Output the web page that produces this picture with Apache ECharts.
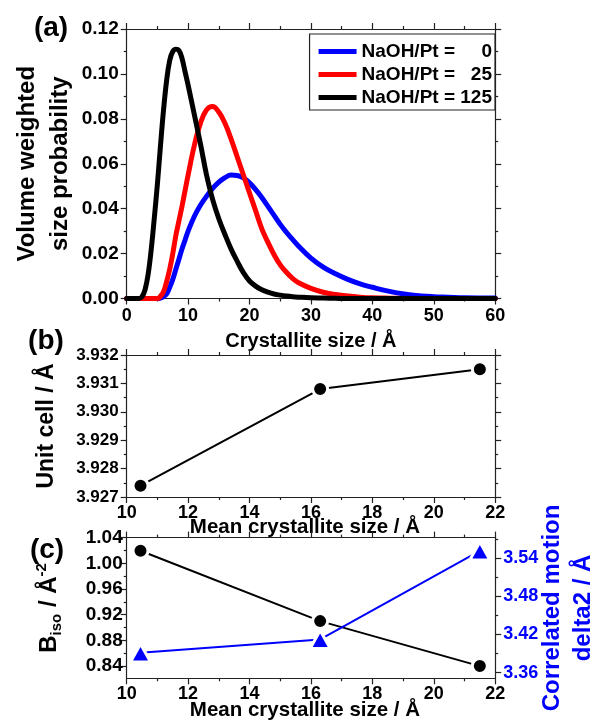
<!DOCTYPE html>
<html>
<head>
<meta charset="utf-8">
<script src="https://cdn.jsdelivr.net/npm/echarts@6/dist/echarts.min.js"></script>
<style>
  html, body { margin: 0; padding: 0; background: #fff; }
  #main { width: 594px; height: 720px; }
</style>
</head>
<body>
<div id="main"></div>
<script>
// (a) size distributions
var crystSize = [0, 1, 2, 2.5, 3, 3.5, 4, 4.5, 5, 5.5, 6, 6.5, 7, 7.5, 8, 8.5, 9, 9.5, 10,
  11, 12, 13, 14, 15, 16, 17, 18, 19, 20, 21, 22, 23, 24, 25, 26, 27, 28,
  30, 32, 34, 36, 38, 40, 42, 44, 46, 48, 50, 55, 60];
var prob0 = [0, 0, 0, 0, 0, 0, 0, 0, 0, 0.0002, 0.0008, 0.002, 0.005, 0.0085, 0.013, 0.0175, 0.022, 0.026, 0.030,
  0.0365, 0.0415, 0.0455, 0.049, 0.0518, 0.0538, 0.055, 0.0548, 0.0537, 0.0515, 0.0485, 0.045, 0.041, 0.037, 0.033, 0.0295, 0.0263, 0.0233,
  0.018, 0.014, 0.011, 0.0085, 0.0065, 0.005, 0.0036, 0.0025, 0.0017, 0.0011, 0.0008, 0.0003, 0.0002];
var prob25 = [0, 0, 0, 0, 0, 0, 0, 0, 0, 0.001, 0.003, 0.0075, 0.013, 0.020, 0.028, 0.0345, 0.041, 0.048, 0.055,
  0.068, 0.078, 0.084, 0.0855, 0.083, 0.078, 0.071, 0.063, 0.055, 0.047, 0.039, 0.031, 0.025, 0.0195, 0.015, 0.0117, 0.009, 0.007,
  0.0045, 0.0028, 0.0018, 0.0011, 0.0006, 0.0003, 0.0002, 0.0001, 0, 0, 0, 0, 0];
var prob125 = [0, 0, 0, 0.0008, 0.004, 0.011, 0.022, 0.036, 0.051, 0.068, 0.084, 0.097, 0.106, 0.110, 0.111, 0.1105, 0.107, 0.101, 0.095,
  0.082, 0.069, 0.055, 0.044, 0.0355, 0.0285, 0.022, 0.0165, 0.0115, 0.0078, 0.0055, 0.0039, 0.0028, 0.002, 0.0015, 0.0011, 0.0008, 0.0006,
  0.0003, 0.0002, 0.0001, 0, 0, 0, 0, 0, 0, 0, 0, 0, 0];
var ratios = ['0', '25', '125'];
var curveColors = ['#0000ff', '#ff0000', '#000000'];

// (b) and (c)
var meanSize = [10.45, 16.3, 21.5];
var unitCell = [3.9274, 3.9308, 3.9315];
var biso = [1.0195, 0.910, 0.840];
var delta2 = [3.391, 3.412, 3.551];
var bisoTicks = [0.84, 0.88, 0.92, 0.96, 1.00, 1.04];
var bisoMinor = [0.86, 0.90, 0.94, 0.98, 1.02];
var delta2Ticks = [3.36, 3.42, 3.48, 3.54];
var delta2Minor = [3.39, 3.45, 3.51, 3.57];

var FONT = 'Liberation Sans, Arial, sans-serif';
var AX = '#222';

function zip(xs, ys) {
  return xs.map(function (x, i) { return [x, ys[i]]; });
}

function axisBase(extra) {
  var o = {
    type: 'value',
    nameMoveOverlap: false,
    axisLine: { show: true, onZero: false, lineStyle: { color: AX, width: 1.2 } },
    axisTick: { show: true, length: 6, lineStyle: { color: AX, width: 1.2 } },
    minorTick: { show: true, splitNumber: 2, length: 3, lineStyle: { color: AX, width: 1.2 } },
    splitLine: { show: false },
    axisLabel: { show: false }
  };
  for (var k in extra) o[k] = extra[k];
  return o;
}

function lbl(size, fmt, margin, color) {
  return { show: true, fontFamily: FONT, fontWeight: 'bold', fontSize: size, color: color || '#000',
    margin: margin, formatter: fmt };
}

function ns(size, lh, extra) {
  var o = { fontFamily: FONT, fontWeight: 'bold', color: '#000', fontSize: size, lineHeight: lh };
  for (var k in extra) o[k] = extra[k];
  return o;
}

var option = {
  animation: false,
  grid: [
    { left: 126.7, top: 29, width: 368.5, height: 269.5, outerBoundsMode: 'none' },
    { left: 126.7, top: 355, width: 368.5, height: 142, outerBoundsMode: 'none' },
    { left: 126.7, top: 537.6, width: 368.5, height: 140.7, outerBoundsMode: 'none' }
  ],
  xAxis: [
    axisBase({ gridIndex: 0, position: 'bottom', min: 0, max: 60, interval: 10,
      axisLabel: lbl(18, function (v) { return v; }, 9),
      name: 'Crystallite size / Å', nameLocation: 'middle', nameGap: 32, nameTextStyle: ns(20, 22) }),
    axisBase({ gridIndex: 0, position: 'top', min: 0, max: 60, interval: 10 }),
    axisBase({ gridIndex: 1, position: 'bottom', min: 10, max: 22, interval: 2,
      axisLabel: lbl(18, function (v) { return v; }, 7),
      name: 'Mean crystallite size / Å', nameLocation: 'middle', nameGap: 19,
      nameTextStyle: ns(20.5, 22, { padding: [0, 12, 0, 0] }) }),
    axisBase({ gridIndex: 1, position: 'top', min: 10, max: 22, interval: 2 }),
    axisBase({ gridIndex: 2, position: 'bottom', min: 10, max: 22, interval: 2,
      axisLabel: lbl(18, function (v) { return v; }, 7),
      name: 'Mean crystallite size / Å', nameLocation: 'middle', nameGap: 21,
      nameTextStyle: ns(20.5, 22, { padding: [0, 12, 0, 0] }) }),
    axisBase({ gridIndex: 2, position: 'top', min: 10, max: 22, interval: 2 })
  ],
  yAxis: [
    axisBase({ gridIndex: 0, position: 'left', min: 0, max: 0.12, interval: 0.02,
      axisLabel: lbl(19, function (v) { return v.toFixed(2); }, 8),
      name: 'Volume weighted\nsize probability', nameLocation: 'middle', nameGap: 50,
      nameTextStyle: ns(24, 33) }),
    axisBase({ gridIndex: 0, position: 'right', min: 0, max: 0.12, interval: 0.02 }),
    axisBase({ gridIndex: 1, position: 'left', min: 3.927, max: 3.932, interval: 0.001,
      axisLabel: lbl(17, function (v) { return v.toFixed(3); }, 8),
      name: 'Unit cell / Å', nameLocation: 'middle', nameGap: 66, nameTextStyle: ns(23, 28) }),
    axisBase({ gridIndex: 1, position: 'right', min: 3.927, max: 3.932, interval: 0.001 }),
    axisBase({ gridIndex: 2, position: 'left', min: 0.821, max: 1.04,
      minorTick: { show: false },
      axisTick: { show: true, length: 6, customValues: bisoTicks, lineStyle: { color: AX, width: 1.2 } },
      axisLabel: { show: true, customValues: bisoTicks, fontFamily: FONT, fontWeight: 'bold', fontSize: 19,
        color: '#000', margin: 4, formatter: function (v) { return v.toFixed(2); } },
      name: 'B{sub|iso} / Å{sup|-2}', nameLocation: 'middle', nameGap: 62,
      nameTextStyle: ns(24, 30, { rich: {
        sub: { fontFamily: FONT, fontWeight: 'bold', fontSize: 15, lineHeight: 15, verticalAlign: 'bottom' },
        sup: { fontFamily: FONT, fontWeight: 'bold', fontSize: 15, lineHeight: 15, verticalAlign: 'top' }
      } }) }),
    axisBase({ gridIndex: 2, position: 'left', min: 0.821, max: 1.04,
      axisLine: { show: false }, minorTick: { show: false },
      axisTick: { show: true, length: 3, customValues: bisoMinor, lineStyle: { color: AX, width: 1.2 } } }),
    axisBase({ gridIndex: 2, position: 'right', min: 3.351, max: 3.572,
      minorTick: { show: false },
      axisTick: { show: true, length: 6, customValues: delta2Ticks, lineStyle: { color: AX, width: 1.2 } },
      axisLabel: { show: true, customValues: delta2Ticks, fontFamily: FONT, fontWeight: 'bold', fontSize: 18,
        color: '#0000ff', margin: 8, formatter: function (v) { return v.toFixed(2); } },
      name: 'Correlated motion\ndelta2 / Å', nameLocation: 'middle', nameGap: 42,
      nameTextStyle: ns(24, 31, { color: '#0000ff' }) }),
    axisBase({ gridIndex: 2, position: 'right', min: 3.351, max: 3.572,
      axisLine: { show: false }, minorTick: { show: false },
      axisTick: { show: true, length: 3, customValues: delta2Minor, lineStyle: { color: AX, width: 1.2 } } })
  ],
  legend: {
    data: ratios.map(function (r) { return 'NaOH/Pt = ' + r; }),
    orient: 'vertical',
    right: 99, top: 34,
    padding: [8, 3, 3, 9],
    itemGap: 4,
    itemWidth: 38, itemHeight: 5,
    icon: 'rect',
    borderColor: '#222', borderWidth: 1.2, borderRadius: 0,
    backgroundColor: '#fff',
    formatter: function (name) {
      var p = name.split('= ');
      return '{a|' + p[0] + '=}{b|' + p[1] + '}';
    },
    textStyle: {
      rich: {
        a: { fontFamily: FONT, fontWeight: 'bold', fontSize: 19, lineHeight: 19, color: '#000' },
        b: { fontFamily: FONT, fontWeight: 'bold', fontSize: 19, lineHeight: 19, color: '#000', width: 37, align: 'right' }
      }
    }
  },
  graphic: [
    { type: 'text', style: { text: '(a)', x: 51, y: 28, align: 'center', verticalAlign: 'middle', fontFamily: FONT, fontWeight: 'bold', fontSize: 28, fill: '#000' } },
    { type: 'text', style: { text: '(b)', x: 46, y: 341, align: 'center', verticalAlign: 'middle', fontFamily: FONT, fontWeight: 'bold', fontSize: 28, fill: '#000' } },
    { type: 'text', style: { text: '(c)', x: 47, y: 550, align: 'center', verticalAlign: 'middle', fontFamily: FONT, fontWeight: 'bold', fontSize: 28, fill: '#000' } }
  ],
  series: [
    { name: 'NaOH/Pt = 0', type: 'line', xAxisIndex: 0, yAxisIndex: 0, data: zip(crystSize, prob0) },
    { name: 'NaOH/Pt = 25', type: 'line', xAxisIndex: 0, yAxisIndex: 0, data: zip(crystSize, prob25) },
    { name: 'NaOH/Pt = 125', type: 'line', xAxisIndex: 0, yAxisIndex: 0, data: zip(crystSize, prob125) }
  ].map(function (s, i) {
    s.symbol = 'none';
    s.showSymbol = false;
    s.smooth = 0.4;
    s.clip = false;
    s.color = curveColors[i];
    s.lineStyle = { width: 5, color: curveColors[i], cap: 'round', join: 'round' };
    return s;
  }).concat([
    { type: 'line', xAxisIndex: 2, yAxisIndex: 2, data: zip(meanSize, unitCell),
      symbol: 'circle', symbolSize: 15, lineStyle: { width: 2, color: '#000' },
      itemStyle: { color: '#000', borderColor: '#fff', borderWidth: 3 } },
    { type: 'line', xAxisIndex: 4, yAxisIndex: 4, data: zip(meanSize, biso),
      symbol: 'circle', symbolSize: 15, lineStyle: { width: 2, color: '#000' },
      itemStyle: { color: '#000', borderColor: '#fff', borderWidth: 3 } },
    { type: 'line', xAxisIndex: 4, yAxisIndex: 6, data: zip(meanSize, delta2),
      symbol: 'triangle', symbolSize: [20, 18], lineStyle: { width: 2, color: '#0000ff' },
      itemStyle: { color: '#0000ff', borderColor: '#fff', borderWidth: 3 } }
  ])
};

var myChart = echarts.init(document.getElementById('main'));
myChart.setOption(option);
</script>
</body>
</html>
